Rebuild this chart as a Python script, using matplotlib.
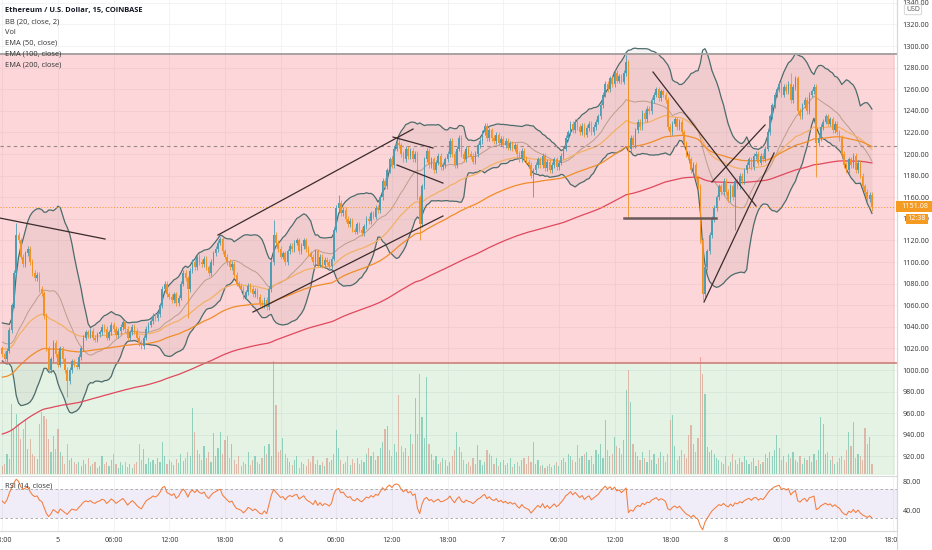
import numpy as np
import pandas as pd
import matplotlib
matplotlib.use('Agg')
import matplotlib.pyplot as plt
from matplotlib.patches import Rectangle
from matplotlib.lines import Line2D

W, H = 932, 550

# hidden history before the first visible candle (BB / RSI warm-up)
WARMUP = [1030, 1035, 1028, 1040, 1045, 1038, 1032, 1025, 1030, 1022,
          1018, 1025, 1032, 1028, 1020, 1015, 1022, 1018, 1012, 1020]

# 15 min closes, from day 4 18:00 to day 8 15:45
CLOSES = [
    1015, 1010, 1018, 1037, 1060, 1090, 1125, 1120,
    1105, 1098, 1108, 1112, 1100,
    1090, 1085, 1088, 1075, 1071,
    1050, 1020, 1000,
    1010, 1025, 1015, 1005, 1020, 1010, 1000, 990,
    1000, 1008, 1005, 1003, 1012, 1020, 1030, 1035, 1032,
    1036, 1030, 1028, 1033, 1035,
    1040, 1038, 1030, 1035, 1042, 1038, 1032, 1036, 1040, 1044, 1038,
    1030, 1035, 1040, 1036, 1030, 1025, 1022, 1030, 1038, 1042, 1045,
    1050, 1048, 1052, 1060,
    1075, 1080, 1070, 1068,
    1065, 1070, 1062, 1067, 1080,
    1090, 1085, 1075, 1092, 1100,
    1095, 1105, 1100, 1098, 1103, 1095, 1090, 1100, 1108, 1112, 1118,
    1121, 1110, 1105, 1100, 1095, 1098, 1088,
    1080, 1078, 1075, 1068, 1072, 1078, 1075, 1070, 1073, 1068, 1062,
    1060, 1065, 1058,
    1075, 1100, 1125,
    1118, 1112, 1105, 1108, 1100, 1110,
    1115, 1112, 1118, 1120, 1110, 1115, 1120, 1112, 1108,
    1105, 1100, 1110, 1098, 1105, 1097, 1102, 1100, 1096, 1103,
    1130, 1150, 1155,
    1145, 1148, 1140, 1135, 1138, 1130, 1128, 1135, 1130, 1127,
    1133, 1140, 1138, 1145, 1142, 1150, 1148,
    1160, 1175, 1170, 1185, 1195, 1190, 1205, 1210, 1208,
    1200, 1195, 1205, 1198, 1203, 1195, 1200,
    1160, 1135,
    1170, 1195, 1203,
    1190, 1195, 1185, 1192, 1198, 1188, 1190, 1195, 1200,
    1212, 1200, 1190, 1205, 1215, 1200,
    1195, 1205, 1200, 1198, 1193, 1200, 1208, 1212,
    1220, 1226, 1215, 1222,
    1215, 1212, 1218, 1210, 1214, 1208, 1212, 1206, 1210, 1205, 1208,
    1200, 1195, 1203, 1196, 1193, 1190,
    1180, 1185, 1190,
    1195, 1190, 1198, 1187, 1193, 1185, 1190, 1195, 1188, 1192, 1198,
    1205, 1215, 1220, 1228, 1222, 1230, 1225,
    1220, 1226, 1218, 1224, 1228, 1220, 1225, 1230, 1235,
    1245, 1255, 1265, 1260,
    1270, 1265, 1275, 1268, 1272, 1267, 1275,
    1285,
    1205,
    1215, 1208, 1222,
    1230, 1225, 1238, 1232, 1242, 1240,
    1250, 1255, 1260, 1252, 1258, 1255, 1250,
    1225, 1220,
    1228, 1232, 1225, 1230, 1220,
    1210, 1200, 1195, 1185, 1190, 1178, 1170,
    1120, 1070,
    1095, 1110, 1125, 1140, 1150,
    1160, 1170, 1165, 1175, 1165, 1158, 1170,
    1160, 1175, 1170, 1180, 1175, 1185, 1190,
    1195, 1188, 1198, 1200, 1192, 1198, 1195, 1205,
    1220, 1235, 1245, 1255, 1260,
    1265, 1255, 1262, 1258, 1265, 1250, 1262, 1270,
    1240, 1235,
    1245, 1250, 1240, 1255, 1258, 1262,
    1210, 1215,
    1225, 1230, 1235, 1228, 1232, 1222, 1228, 1220, 1215,
    1200, 1190, 1185,
    1195, 1190, 1198, 1185, 1192, 1180,
    1170, 1165, 1158, 1162, 1151.08,
]

# long wicks: index -> (high, low)
EXTREMES = {6: (1136, None), 28: (None, 975), 80: (None, 1048),
            117: (1139, None), 145: (1162, None), 171: (1216, None),
            180: (None, 1120), 229: (None, 1160), 269: (1292, None),
            270: (None, 1142), 302: (None, 1065), 316: (None, 1130),
            340: (1275, None), 351: (None, 1179), 375: (None, 1147)}

VOLUMES = [
    8, 10, 20, 15, 70, 45, 60, 50, 35, 45, 55, 25, 35, 20, 18, 15, 50, 62, 58, 55,
    35, 22, 38, 25, 45, 22, 18, 10, 30, 14, 16, 12, 10, 12, 8, 14, 10, 16, 8, 10,
    12, 6, 8, 18, 10, 12, 8, 14, 20, 10, 6, 12, 9, 12, 7, 10, 6, 10, 12, 30,
    14, 25, 10, 16, 12, 14, 10, 16, 12, 32, 18, 10, 14, 12, 9, 15, 11, 20, 13, 16,
    22, 18, 66, 42, 24, 20, 14, 28, 16, 22, 12, 41, 18, 26, 42, 20, 34, 38, 16, 30,
    14, 10, 18, 8, 12, 10, 22, 9, 14, 18, 12, 10, 16, 28, 20, 30, 18, 113, 69, 22,
    24, 36, 20, 16, 12, 9, 14, 18, 6, 12, 10, 8, 15, 12, 18, 10, 14, 9, 12, 8,
    16, 12, 14, 20, 44, 26, 14, 10, 12, 18, 9, 15, 11, 16, 10, 14, 12, 20, 26, 18,
    22, 14, 18, 26, 32, 45, 48, 24, 18, 30, 22, 79, 28, 22, 26, 18, 40, 30, 76, 40,
    100, 57, 36, 97, 30, 20, 14, 18, 10, 12, 16, 14, 8, 12, 18, 24, 42, 27, 22, 14,
    10, 12, 8, 16, 10, 29, 14, 9, 12, 24, 20, 18, 10, 16, 8, 12, 14, 9, 11, 16,
    7, 10, 12, 8, 14, 16, 10, 18, 12, 32, 10, 14, 8, 9, 6, 8, 10, 7, 9, 12,
    8, 14, 16, 12, 20, 18, 14, 12, 29, 16, 18, 20, 22, 14, 18, 10, 24, 20, 30, 16,
    54, 24, 18, 20, 37, 28, 26, 20, 34, 84, 104, 72, 30, 22, 18, 14, 22, 16, 12, 24,
    14, 20, 10, 16, 22, 18, 12, 20, 54, 59, 28, 14, 18, 24, 20, 16, 39, 49, 30, 22,
    36, 117, 100, 80, 27, 22, 24, 20, 16, 14, 12, 10, 18, 8, 12, 20, 14, 10, 16, 12,
    18, 14, 10, 12, 16, 8, 14, 10, 12, 20, 16, 22, 18, 24, 39, 26, 14, 18, 12, 20,
    16, 22, 14, 12, 18, 10, 16, 14, 18, 12, 20, 14, 24, 57, 50, 20, 22, 14, 18, 10,
    12, 16, 18, 14, 24, 42, 28, 52, 16, 20, 18, 14, 46, 30, 37, 10,
]

EMA_SEEDS = {50: 1020, 100: 993, 200: 940}

TICK_IDX = [0, 24, 48, 72, 96, 120, 144, 168, 192, 216, 240, 264, 288, 312,
            336, 360, 384]
TICK_LABELS = ['18:00', '5', '06:00', '12:00', '18:00', '6', '06:00', '12:00',
               '18:00', '7', '06:00', '12:00', '18:00', '8', '06:00', '12:00',
               '18:00']

# user drawings: (candle index, price) pairs
TREND_LINES = [
    ((-1.0, 1140.7), (44.3, 1121.3)),
    ((93.0, 1125.0), (177.1, 1223.1)),
    ((108.1, 1053.7), (190.0, 1142.6)),
    ((168.5, 1215.7), (185.7, 1205.6)),
    ((170.2, 1189.8), (190.0, 1173.1)),
    ((280.6, 1275.9), (325.0, 1151.9)),
    ((302.6, 1063.0), (332.8, 1200.9)),
    ((306.0, 1174.1), (328.9, 1226.9)),
]
SUPPORT = ((268.1, 307.8), 1140.7)
ZONE_TOP, ZONE_MID = 1292.6, 1006.5
DASHED_LEVEL = 1207.0
LAST_PRICE = 1151.08

UP, DOWN = '#4f9db3', '#f39223'

plt.rcParams['font.family'] = ['Open Sans', 'DejaVu Sans']


def fig_rect(x0, y0, x1, y1):
    return [x0 / W, 1 - y1 / H, (x1 - x0) / W, (y1 - y0) / H]


closes = np.array(CLOSES, dtype=float)
N = len(closes)
idx = np.arange(N)
opens = np.r_[WARMUP[-1], closes[:-1]]
highs = np.maximum(opens, closes) + 2.5
lows = np.minimum(opens, closes) - 2.5
for i, (hi, lo) in EXTREMES.items():
    if hi is not None:
        highs[i] = hi
    if lo is not None:
        lows[i] = lo
up = closes >= opens

full = pd.Series(np.r_[WARMUP, closes])
basis = full.rolling(20).mean().values[20:]
dev = full.rolling(20).std(ddof=0).values[20:]
bb_up, bb_lo = basis + 2 * dev, basis - 2 * dev


def ema(span):
    s = pd.Series(np.r_[EMA_SEEDS[span], closes])
    return s.ewm(span=span, adjust=False).mean().values[1:]


delta = full.diff()
gain = delta.clip(lower=0).ewm(alpha=1 / 14, adjust=False).mean()
loss = (-delta.clip(upper=0)).ewm(alpha=1 / 14, adjust=False).mean()
rsi = (100 - 100 / (1 + gain / loss)).values[20:]

fig = plt.figure(figsize=(W / 100, H / 100), dpi=100)
fig.patch.set_facecolor('white')

xlim = (-2.3 / 2.319, (897 - 2.3) / 2.319)

# ---- main pane
ax = fig.add_axes(fig_rect(0, 0, 897, 475))
ax.set_xlim(*xlim)
ax.set_ylim(902.8, 1342.6)
ax.set_axisbelow(True)
ax.set_yticks(np.arange(920, 1341, 20))
ax.set_xticks(TICK_IDX)
ax.grid(True, color='#f0f1f4', lw=0.6)

vol = np.array(VOLUMES[:N], dtype=float)
vcol = [(38 / 255, 166 / 255, 154 / 255, 0.45) if u else
        (239 / 255, 83 / 255, 80 / 255, 0.4) for u in up]
ax.bar(idx, vol / 475, bottom=1 / 475, width=0.5, color=vcol, lw=0,
       transform=ax.get_xaxis_transform(), zorder=0.8)

ax.add_patch(Rectangle((xlim[0], ZONE_MID), xlim[1] - xlim[0] - 0.8,
                       ZONE_TOP - ZONE_MID,
                       facecolor=(242 / 255, 54 / 255, 69 / 255, 0.2),
                       edgecolor='none', zorder=1))
ax.add_patch(Rectangle((xlim[0], 902.8), xlim[1] - xlim[0] - 0.8,
                       ZONE_MID - 902.8,
                       facecolor=(76 / 255, 175 / 255, 80 / 255, 0.15),
                       edgecolor='none', zorder=1))
ax.axhline(ZONE_TOP, color='#a8a2a2', lw=1.4, zorder=3)
ax.axhline(ZONE_MID, color='#c9776e', lw=1.1, zorder=3)
ax.axhline(DASHED_LEVEL, color='#9c8585', lw=0.8, ls=(0, (3, 3)), zorder=3)
ax.axhline(LAST_PRICE, color='#f7931a', lw=0.7, ls=(0, (1, 2)), zorder=3)

ax.fill_between(idx, bb_lo, bb_up, color='#7a6060', alpha=0.08, lw=0, zorder=1.5)
ax.plot(idx, bb_up, color='#4d6b6b', lw=0.9, zorder=2)
ax.plot(idx, bb_lo, color='#4d6b6b', lw=0.9, zorder=2)
ax.plot(idx, basis, color='#bb9d8c', lw=0.7, zorder=2)
ax.plot(idx, ema(50), color='#f3b066', lw=0.9, zorder=2.5)
ax.plot(idx, ema(100), color='#f08d28', lw=0.9, zorder=2.5)
ax.plot(idx, ema(200), color='#e0485c', lw=0.9, zorder=2.5)

ccol = np.where(up, UP, DOWN)
ax.vlines(idx, lows, highs, colors=ccol, lw=0.6, zorder=4)
body = np.maximum(np.abs(closes - opens), 0.8)
ax.bar(idx, body, bottom=np.minimum(opens, closes), width=0.7, color=ccol,
       lw=0, zorder=5)

for (x0, y0), (x1, y1) in TREND_LINES:
    ax.plot([x0, x1], [y0, y1], color='#3b2b2b', lw=0.9, zorder=6)
ax.plot(SUPPORT[0], [SUPPORT[1]] * 2, color='#6a5a5a', lw=1.8, zorder=6)

ax.yaxis.tick_right()
ax.set_yticks(np.arange(920, 1341, 20))
ax.set_yticklabels([f'{v:.2f}' for v in np.arange(920, 1341, 20)])
ax.tick_params(axis='y', length=0, pad=4, labelsize=5.2, labelcolor='#333333')
ax.tick_params(axis='x', length=0, labelbottom=False)
for s in ['top', 'left', 'bottom']:
    ax.spines[s].set_visible(False)
ax.spines['right'].set_color('#d8d8d8')
ax.spines['right'].set_linewidth(0.8)

# ---- RSI pane
axr = fig.add_axes(fig_rect(0, 476, 897, 531))
axr.set_xlim(*xlim)
axr.set_ylim(13.3, 86.7)
axr.set_axisbelow(True)
axr.set_xticks(TICK_IDX)
axr.set_xticklabels(TICK_LABELS)
axr.grid(True, axis='x', color='#f0f1f4', lw=0.6)
axr.axhspan(30, 70, color=(126 / 255, 87 / 255, 194 / 255, 0.1), lw=0)
axr.axhline(70, color='#a3a3a3', lw=0.6, ls=(0, (3, 3)))
axr.axhline(30, color='#a3a3a3', lw=0.6, ls=(0, (3, 3)))
axr.plot(idx, rsi, color='#f47c3c', lw=0.75)
axr.yaxis.tick_right()
axr.set_yticks([40, 80])
axr.set_yticklabels(['40.00', '80.00'])
axr.tick_params(axis='y', length=0, pad=4, labelsize=5.2, labelcolor='#333333')
axr.tick_params(axis='x', length=0, pad=4.5, labelsize=5.2, labelcolor='#333333')
for s in ['left']:
    axr.spines[s].set_visible(False)
for s in ['top', 'bottom', 'right']:
    axr.spines[s].set_color('#d8d8d8')
    axr.spines[s].set_linewidth(0.8)
axr.text(0.0056, 0.82, 'RSI (14, close)', transform=axr.transAxes,
         fontsize=5.4, color='#333333', va='center')

# cover the price-axis corner under the time labels
fig.patches.append(Rectangle((897 / W, 0), 35 / W, 19 / H,
                             transform=fig.transFigure, facecolor='white',
                             edgecolor='none', zorder=2))
fig.lines.append(Line2D([897 / W, 897 / W], [0, 1], transform=fig.transFigure,
                        color='#d8d8d8', lw=0.8, zorder=2.5))

# ---- legend
legend = ['BB (20, close, 2)', 'Vol', 'EMA (50, close)', 'EMA (100, close)',
          'EMA (200, close)']
fig.text(5 / W, 1 - 10.7 / H, 'Ethereum / U.S. Dollar, 15, COINBASE',
         fontsize=5.4, fontweight='bold', color='#131722', va='center')
for k, t in enumerate(legend):
    fig.text(5 / W, 1 - (22.0 + 10.7 * k) / H, t, fontsize=5.4,
             color='#333333', va='center')

# ---- price axis labels
fig.text(913 / W, 1 - 9.5 / H, 'USD', fontsize=5.0, color='#555555',
         ha='center', va='center', zorder=4,
         bbox=dict(boxstyle='round,pad=0.25', fc='white', ec='#cfcfcf', lw=0.6))
fig.patches.append(Rectangle((896 / W, 1 - 211.5 / H), 36 / W, 10.5 / H,
                             transform=fig.transFigure, facecolor='#f59b22',
                             edgecolor='none', zorder=3))
fig.text(901 / W, 1 - 206.3 / H, f'{LAST_PRICE:.2f}', fontsize=5.2,
         color='white', va='center', zorder=4)
fig.patches.append(Rectangle((906 / W, 1 - 224 / H), 22 / W, 10.5 / H,
                             transform=fig.transFigure, facecolor='#f59b22',
                             edgecolor='none', zorder=3))
fig.text(917 / W, 1 - 219 / H, '12:38', fontsize=5.2, color='white',
         ha='center', va='center', zorder=4)

fig.savefig('out.png', dpi=100)
